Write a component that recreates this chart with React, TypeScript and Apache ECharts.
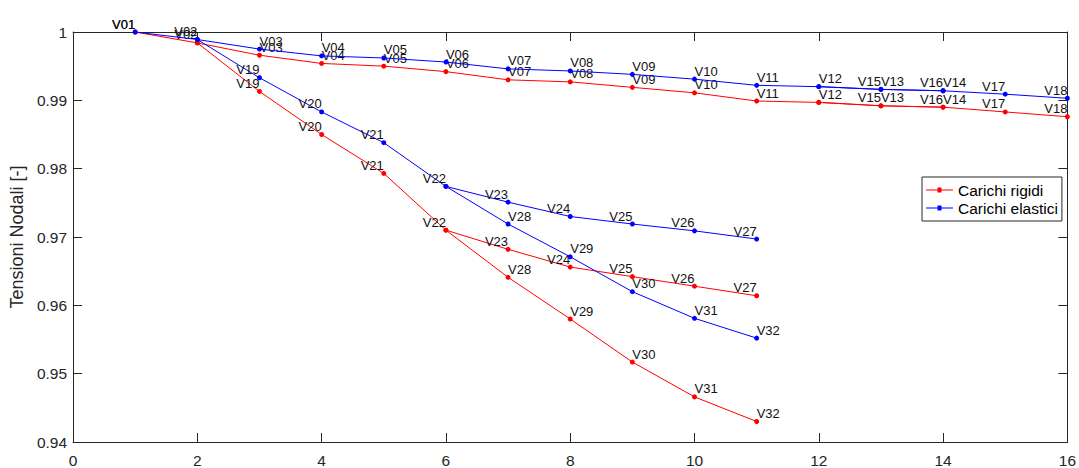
import React, { useEffect, useRef } from "react";
import * as echarts from "echarts";

const nodeNames = [
  "V01", "V02", "V03", "V04", "V05", "V06", "V07", "V08", "V09", "V10",
  "V11", "V12", "V13", "V14", "V15", "V16", "V17", "V18", "V19", "V20",
  "V21", "V22", "V23", "V24", "V25", "V26", "V27", "V28", "V29", "V30",
  "V31", "V32",
];
const nodeX = [1, 2, 3, 4, 5, 6, 7, 8, 9, 10, 11, 12, 13, 14, 13, 14, 15, 16, 3, 4, 5, 6, 7, 8, 9, 10, 11, 7, 8, 9, 10, 11];
const rigidValues = [
  1.0, 0.9984, 0.9966, 0.9954, 0.995, 0.9942, 0.993, 0.9927, 0.9919, 0.9911,
  0.9899, 0.9897, 0.9892, 0.989, 0.9892, 0.989, 0.9883, 0.9876, 0.9913, 0.985,
  0.9793, 0.971, 0.9682, 0.9656, 0.9642, 0.9628, 0.9614, 0.9641, 0.958, 0.9517,
  0.9466, 0.943,
];
const elasticValues = [
  1.0, 0.9989, 0.9975, 0.9965, 0.9962, 0.9956, 0.9946, 0.9943, 0.9938, 0.9931,
  0.9922, 0.992, 0.9916, 0.9914, 0.9916, 0.9914, 0.9909, 0.9903, 0.9933, 0.9883,
  0.9838, 0.9774, 0.9751, 0.973, 0.9719, 0.9709, 0.9697, 0.9719, 0.9671, 0.962,
  0.9581, 0.9552,
];
const branches = [
  ["V01", "V02", "V03", "V04", "V05", "V06", "V07", "V08", "V09", "V10", "V11", "V12", "V13", "V14", "V17", "V18"],
  ["V12", "V15", "V16"],
  ["V02", "V19", "V20", "V21", "V22", "V23", "V24", "V25", "V26", "V27"],
  ["V22", "V28", "V29", "V30", "V31", "V32"],
];
const leftLabelNodes = ["V01", "V02", "V15", "V16", "V17", "V18", "V19", "V20", "V21", "V22", "V23", "V24", "V25", "V26", "V27"];
const seriesNames = ["Carichi rigidi", "Carichi elastici"];
const seriesColors = ["#ff0000", "#0000ff"];

const FONT = "'Liberation Sans', Arial, Helvetica, sans-serif";
const AXIS_COLOR = "#262626";
const LEGEND_ICON =
  "path://M0,0L0.01,0L0,0.01Z M27,16L26.99,16L27,15.99Z M0,7.5L27,7.5L27,8.5L0,8.5Z M11.5,5.5L15.5,5.5L15.5,10.5L11.5,10.5Z";

export default function App() {
  const ref = useRef<HTMLDivElement>(null);
  useEffect(() => {
    if (!ref.current) return;
    const chart = echarts.init(ref.current, undefined, { renderer: "svg" });
    const valueSets = [rigidValues, elasticValues];
    const series: any[] = [];
    valueSets.forEach((vals, si) => {
      branches.forEach((path, pi) => {
        series.push({
          type: "line",
          name: seriesNames[si],
          color: seriesColors[si],
          symbol: "circle",
          symbolSize: 5,
          showAllSymbol: true,
          lineStyle: { width: 1, color: seriesColors[si] },
          itemStyle: { color: seriesColors[si] },
          z: 2 + si,
          data: path.map((n, i) => {
            const idx = nodeNames.indexOf(n);
            const left = leftLabelNodes.includes(n);
            return {
              value: [nodeX[idx], vals[idx]],
              name: n,
              label: {
                show: i > 0 || pi === 0,
                formatter: n,
                position: [2.5, 1],
                align: left ? "right" : "left",
                verticalAlign: "bottom",
                fontSize: 13,
                fontFamily: FONT,
                color: "#111",
              },
            };
          }),
        });
      });
    });
    const axisCommon = {
      axisLine: { show: true, onZero: false, lineStyle: { color: AXIS_COLOR, width: 1 } },
      axisTick: { show: true, inside: true, length: 9, lineStyle: { color: AXIS_COLOR } },
      splitLine: { show: false },
    };
    chart.setOption({
      animation: false,
      backgroundColor: "#ffffff",
      grid: { left: 72, right: 10, top: 32, bottom: 25, containLabel: false },
      legend: {
        data: seriesNames.map((n, i) => ({ name: n, icon: LEGEND_ICON, itemStyle: { color: seriesColors[i] } })),
        orient: "vertical",
        left: 922,
        top: 177,
        padding: [5, 4, 5, 4],
        itemGap: 2,
        itemWidth: 27,
        itemHeight: 16,
        backgroundColor: "#ffffff",
        borderColor: AXIS_COLOR,
        borderWidth: 1,
        borderRadius: 0,
        textStyle: { fontSize: 15.5, fontFamily: FONT, color: "#000", lineHeight: 16 },
      },
      xAxis: [
        {
          type: "value", min: 0, max: 16, interval: 2, position: "bottom",
          ...axisCommon,
          axisLabel: { fontSize: 15.5, fontFamily: FONT, color: AXIS_COLOR, margin: 10 },
        },
        {
          type: "value", min: 0, max: 16, interval: 2, position: "top",
          ...axisCommon,
          axisLabel: { show: false },
        },
      ],
      yAxis: [
        {
          type: "value", min: 0.94, max: 1, interval: 0.01, position: "left",
          name: "Tensioni Nodali [-]",
          nameLocation: "middle",
          nameGap: 44,
          nameTextStyle: { fontSize: 18, fontFamily: FONT, color: AXIS_COLOR },
          ...axisCommon,
          axisLabel: {
            fontSize: 15.5, fontFamily: FONT, color: AXIS_COLOR, margin: 6,
            formatter: (v: number) => String(Math.round(v * 100) / 100),
          },
        },
        {
          type: "value", min: 0.94, max: 1, interval: 0.01, position: "right",
          ...axisCommon,
          axisLabel: { show: false },
        },
      ],
      series,
    });
    return () => chart.dispose();
  }, []);
  return (
    <div
      ref={ref}
      style={{ position: "fixed", left: 0, top: 0, width: 1079, height: 468, background: "#fff" }}
    />
  );
}
